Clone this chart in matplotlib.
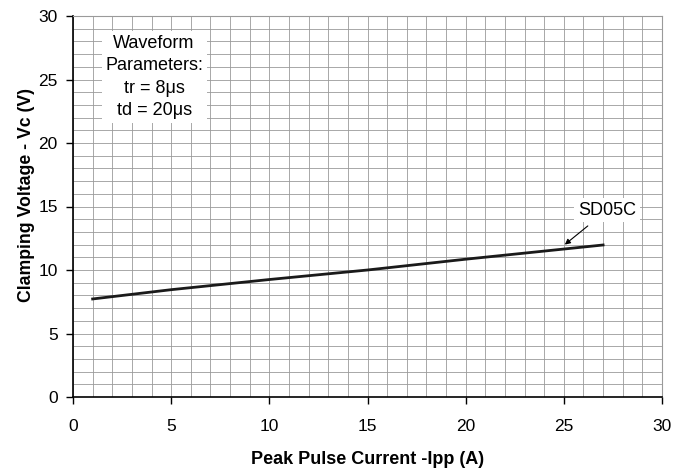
import matplotlib
matplotlib.use("Agg")
import matplotlib.pyplot as plt
import numpy as np

plt.rcParams['font.family'] = ['Liberation Sans', 'DejaVu Sans']

current = [1, 5, 10, 15, 20, 25, 27]
voltage = [7.72, 8.45, 9.25, 10.0, 10.85, 11.65, 11.97]
series_name = "SD05C"
xticks = [0, 5, 10, 15, 20, 25, 30]
yticks = [0, 5, 10, 15, 20, 25, 30]

fig = plt.figure(figsize=(6.9, 4.71), dpi=100)
ax = fig.add_axes([73/690, 1 - 397/471, (662-73)/690, (397-16)/471])

ax.set_xlim(0, 30)
ax.set_ylim(0, 30)
ax.set_xticks(xticks)
ax.set_yticks(yticks)
ax.set_xticks(np.arange(0, 31, 1), minor=True)
ax.set_yticks(np.arange(0, 31, 1), minor=True)
ax.grid(which='both', color='#9a9a9a', linewidth=0.6)
ax.set_axisbelow(True)
ax.tick_params(which='minor', length=0)
ax.tick_params(which='major', direction='out', length=5, width=1, labelsize=12.5, pad=6, colors='black')
ax.tick_params(axis='x', pad=11)

for s in ['left', 'bottom']:
    ax.spines[s].set_color('black')
    ax.spines[s].set_linewidth(1.2)
for s in ['top', 'right']:
    ax.spines[s].set_color('#9a9a9a')
    ax.spines[s].set_linewidth(0.8)

ax.plot(current, voltage, color='#1a1a1a', linewidth=2)

ax.annotate(series_name, xy=(25.05, 12.0), xytext=(27.2, 14.7),
            ha='center', va='center', fontsize=13,
            bbox=dict(boxstyle='square,pad=0.2', fc='white', ec='none'),
            arrowprops=dict(arrowstyle='-|>', color='black', lw=0.8,
                            mutation_scale=8, shrinkA=4, shrinkB=0))

ax.text(4.13, 25.2, "Waveform\nParameters:\ntr = 8μs\ntd = 20μs", ha='center', va='center',
        fontsize=13, linespacing=1.42,
        bbox=dict(boxstyle='square,pad=0.2', fc='white', ec='none'))

ax.set_xlabel("Peak Pulse Current -Ipp (A)", fontsize=13, fontweight='bold', labelpad=12)
ax.set_ylabel("Clamping Voltage - Vc (V)", fontsize=12.7, fontweight='bold')
ax.yaxis.set_label_coords(-0.064, 0.53)

fig.savefig("out.png", dpi=100)
